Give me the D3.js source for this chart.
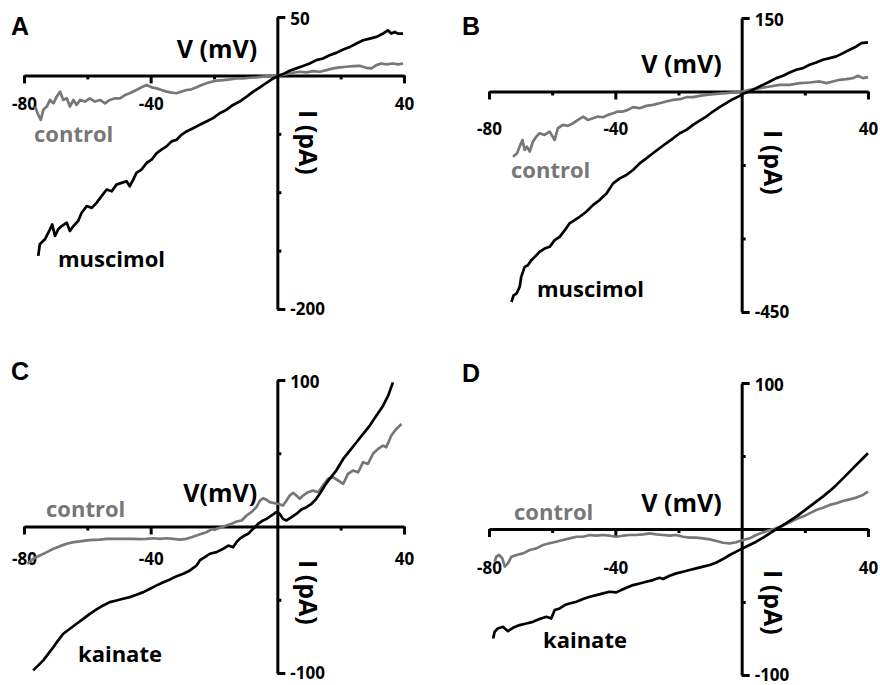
<!DOCTYPE html>
<html>
<head>
<meta charset="utf-8">
<script src="https://cdn.jsdelivr.net/npm/d3@7"></script>
<style>
  body { margin: 0; background: #fff; }
  svg text { font-family: 'Open Sans', sans-serif; font-weight: 700; }
  .axis path, .axis line { stroke: #000; stroke-width: 3; }
  .axis text { font-size: 17px; fill: #000; }
</style>
</head>
<body>
<div id="chart"></div>
<script>
// I-V traces: [V (mV), I (pA)]
const controlA = [[-76.5,-26.7],[-75.5,-33.8],[-74.7,-38.1],[-73.9,-29.5],[-72.8,-26.7],[-71.8,-21.0],[-70.7,-23.9],[-69.7,-18.2],[-68.6,-13.9],[-67.6,-21.0],[-66.5,-19.6],[-65.5,-26.7],[-64.4,-21.0],[-63.4,-25.3],[-62.3,-21.0],[-60.8,-22.4],[-59.2,-19.6],[-57.6,-22.4],[-56.0,-21.0],[-54.4,-23.9],[-52.9,-21.0],[-51.3,-19.6],[-49.7,-19.6],[-48.1,-16.8],[-46.6,-15.3],[-44.5,-12.5],[-42.9,-10.2],[-41.3,-8.2],[-39.7,-10.2],[-38.1,-11.1],[-36.6,-12.5],[-35.0,-13.9],[-33.4,-14.8],[-31.8,-15.3],[-30.3,-13.9],[-28.7,-12.5],[-27.1,-11.9],[-25.5,-10.2],[-23.9,-8.2],[-22.4,-6.8],[-20.8,-5.4],[-19.2,-4.5],[-17.1,-4.0],[-15.0,-3.4],[-12.9,-2.6],[-10.8,-2.6],[-8.7,-2.0],[-6.6,-1.7],[-4.5,-1.1],[-2.4,-0.6],[0.2,-0.3],[2.9,1.1],[5.0,2.3],[7.1,3.1],[9.2,2.6],[11.3,3.7],[13.4,3.1],[15.5,4.5],[17.6,6.0],[19.7,6.8],[21.8,7.4],[23.9,8.0],[26.0,8.2],[28.1,6.5],[29.7,6.0],[31.3,8.8],[32.8,10.2],[34.4,9.4],[36.5,10.2],[38.1,9.4],[39.7,10.2]]
const muscimolA = [[-75.5,-154.5],[-75.0,-144.6],[-73.4,-140.3],[-71.8,-131.8],[-71.1,-127.6],[-70.2,-137.5],[-69.2,-131.8],[-68.1,-129.0],[-66.5,-126.1],[-65.5,-133.2],[-64.4,-129.0],[-62.9,-124.7],[-61.8,-117.6],[-60.2,-111.9],[-58.6,-113.4],[-57.1,-109.1],[-55.5,-103.4],[-53.9,-97.7],[-52.3,-99.2],[-50.8,-93.5],[-49.2,-92.0],[-47.6,-90.6],[-46.6,-94.9],[-45.5,-89.2],[-44.5,-83.5],[-42.9,-80.7],[-41.3,-75.0],[-39.7,-72.2],[-38.1,-66.5],[-36.6,-63.6],[-35.0,-60.8],[-33.4,-56.5],[-31.8,-55.1],[-30.3,-50.9],[-28.7,-48.0],[-26.6,-45.2],[-24.5,-42.3],[-22.4,-39.5],[-20.3,-36.6],[-18.2,-32.4],[-16.1,-29.5],[-14.0,-25.3],[-11.9,-22.4],[-9.7,-18.2],[-7.6,-13.9],[-5.5,-10.2],[-3.4,-6.3],[-1.3,-2.6],[0.2,-0.6],[1.8,1.1],[3.9,4.0],[6.0,6.0],[8.1,8.0],[10.2,10.2],[12.3,13.1],[14.4,14.5],[16.5,17.3],[18.6,19.3],[20.8,22.2],[22.9,24.4],[25.0,27.3],[27.1,30.1],[29.2,31.5],[31.3,33.0],[33.4,35.8],[34.9,38.6],[36.0,35.8],[37.1,37.2],[38.1,35.8],[39.7,35.8]]

const controlB = [[-72.4,-133.0],[-71.1,-126.1],[-70.3,-112.5],[-69.4,-98.9],[-68.7,-119.3],[-68.0,-112.5],[-67.1,-122.7],[-66.1,-102.3],[-65.0,-92.0],[-64.0,-85.2],[-62.4,-88.6],[-60.8,-81.8],[-59.2,-98.9],[-58.2,-75.0],[-56.6,-68.2],[-55.0,-70.2],[-53.4,-64.8],[-51.8,-58.0],[-50.2,-51.1],[-48.7,-58.0],[-47.1,-54.5],[-45.5,-51.1],[-43.9,-52.5],[-42.3,-47.7],[-40.7,-44.3],[-39.2,-40.9],[-37.6,-40.9],[-36.0,-37.5],[-34.4,-32.0],[-32.3,-34.1],[-30.2,-29.3],[-28.1,-27.3],[-26.0,-23.9],[-23.9,-20.5],[-21.7,-17.0],[-19.6,-15.7],[-17.5,-11.6],[-15.4,-11.6],[-13.3,-8.9],[-11.2,-6.8],[-8.0,-4.8],[-4.9,-3.4],[-2.8,-2.0],[0.2,0],[2.5,3.4],[5.7,6.8],[8.9,10.2],[12.0,13.6],[15.2,13.6],[18.4,17.0],[21.5,18.4],[24.7,20.5],[26.8,17.0],[28.9,20.5],[31.0,23.9],[33.1,25.2],[35.3,27.3],[36.8,32.0],[38.4,27.3],[40.0,29.3]]
const muscimolB = [[-72.9,-429.5],[-72.2,-415.9],[-71.3,-412.5],[-70.3,-398.9],[-69.8,-378.4],[-68.7,-358.0],[-67.7,-354.5],[-66.6,-344.3],[-65.5,-337.5],[-64.0,-327.3],[-62.4,-320.5],[-60.8,-317.0],[-59.2,-303.4],[-57.6,-296.6],[-56.0,-282.9],[-54.5,-269.3],[-52.9,-262.5],[-51.3,-255.7],[-49.2,-245.4],[-47.1,-231.8],[-45.0,-221.6],[-42.8,-208.0],[-40.7,-187.5],[-38.6,-177.3],[-36.5,-170.5],[-34.4,-160.2],[-32.3,-146.6],[-30.2,-136.4],[-28.1,-126.1],[-26.0,-115.9],[-23.9,-105.7],[-21.7,-95.5],[-19.6,-85.2],[-17.5,-78.4],[-15.4,-68.2],[-13.3,-59.3],[-11.2,-51.1],[-9.1,-40.9],[-7.0,-32.0],[-4.9,-23.9],[-2.8,-15.7],[-0.6,-8.9],[0.4,-4.8],[2.5,0],[4.6,6.8],[6.8,13.6],[8.9,20.5],[11.0,27.3],[13.1,32.0],[15.2,38.9],[17.3,44.3],[19.4,47.7],[21.5,54.5],[23.6,59.3],[25.7,64.8],[27.9,68.2],[30.0,71.6],[32.1,78.4],[34.2,85.2],[36.3,92.0],[37.9,98.9],[40.0,100.2]]

const controlC = [[-78.9,-25.5],[-77.1,-22.0],[-75.0,-19.8],[-72.8,-17.5],[-70.7,-15.2],[-68.6,-13.4],[-66.5,-11.8],[-64.4,-10.7],[-62.3,-10.2],[-60.2,-9.5],[-58.1,-9.1],[-56.0,-8.9],[-53.9,-8.4],[-51.8,-8.4],[-49.7,-8.4],[-47.6,-8.4],[-45.5,-8.4],[-43.4,-8.6],[-41.3,-8.4],[-39.2,-8.0],[-37.1,-8.4],[-35.0,-8.0],[-32.9,-8.4],[-30.8,-8.9],[-28.7,-8.4],[-27.1,-7.3],[-25.5,-6.1],[-23.9,-5.0],[-22.4,-3.9],[-20.8,-2.0],[-19.2,-1.6],[-17.6,-0.5],[-16.1,0.7],[-14.5,1.8],[-12.9,3.4],[-11.3,4.1],[-9.7,7.5],[-8.2,9.8],[-6.6,13.2],[-5.5,17.7],[-4.5,19.3],[-3.4,18.2],[-2.4,16.6],[-1.3,16.1],[0.2,15.5],[1.8,14.3],[2.9,17.7],[3.9,21.1],[5.0,23.0],[6.0,21.1],[7.1,18.9],[8.1,21.1],[9.7,23.4],[11.3,24.5],[12.9,23.4],[14.4,28.0],[16.0,32.5],[17.6,33.6],[19.2,31.4],[20.8,29.1],[22.3,35.9],[23.9,38.2],[25.5,37.0],[27.1,43.9],[28.6,42.7],[30.2,49.6],[31.8,53.0],[33.4,55.2],[34.4,54.1],[36.0,62.1],[37.6,66.6],[39.2,70.0]]
const kainateC = [[-77.1,-98.2],[-75.5,-94.8],[-73.9,-91.4],[-72.3,-86.8],[-70.7,-82.3],[-69.2,-77.7],[-67.6,-73.2],[-65.5,-69.8],[-63.4,-66.4],[-61.3,-63.0],[-59.2,-59.6],[-57.1,-56.6],[-55.0,-53.9],[-52.9,-51.6],[-50.8,-50.5],[-48.7,-49.3],[-46.6,-48.2],[-44.5,-46.6],[-42.3,-44.8],[-40.2,-42.5],[-38.1,-40.2],[-36.0,-38.0],[-33.9,-36.1],[-31.8,-33.9],[-29.7,-32.3],[-27.6,-30.0],[-25.5,-26.6],[-24.5,-23.2],[-22.9,-20.9],[-21.3,-18.6],[-19.2,-17.5],[-17.1,-15.2],[-15.5,-13.0],[-14.0,-14.1],[-12.9,-10.7],[-11.9,-8.4],[-10.3,-6.1],[-9.2,-5.0],[-8.2,-2.7],[-7.1,-0.5],[-6.1,1.8],[-4.5,4.1],[-3.4,5.2],[-1.9,7.5],[-0.3,9.8],[0.8,8.6],[1.8,5.2],[2.9,4.1],[4.5,6.4],[6.0,8.6],[7.6,11.6],[9.2,13.2],[10.8,15.5],[12.3,18.9],[13.4,22.3],[15.0,28.0],[16.5,32.5],[18.6,38.2],[20.8,46.1],[22.9,51.8],[25.0,57.5],[27.1,63.2],[29.2,68.9],[31.3,75.7],[33.4,82.5],[35.0,89.3],[36.5,98.4]]

const controlD = [[-78.2,-22.4],[-77.7,-19.0],[-76.8,-17.8],[-75.8,-20.1],[-75.0,-25.8],[-74.0,-23.5],[-72.9,-19.0],[-71.3,-17.8],[-69.2,-16.7],[-67.1,-14.4],[-65.0,-13.3],[-62.9,-11.0],[-60.8,-9.8],[-58.7,-8.7],[-56.6,-7.5],[-54.5,-6.4],[-52.3,-5.3],[-50.2,-5.3],[-48.1,-4.1],[-46.0,-4.6],[-43.9,-4.1],[-41.8,-4.6],[-39.7,-5.3],[-37.6,-4.6],[-35.5,-4.1],[-33.4,-4.1],[-31.2,-3.7],[-29.1,-3.0],[-27.0,-3.7],[-24.9,-4.1],[-22.8,-4.6],[-20.7,-4.1],[-18.6,-5.3],[-16.5,-5.9],[-14.4,-5.9],[-12.2,-6.4],[-10.1,-7.1],[-8.0,-8.2],[-5.9,-9.4],[-3.8,-9.8],[-1.7,-9.1],[0.4,-7.5],[2.5,-6.4],[4.6,-4.1],[6.8,-2.3],[8.9,-0.7],[11.0,0.5],[13.1,2.3],[15.2,4.6],[17.3,6.9],[19.4,8.5],[21.5,10.7],[23.6,13.0],[25.7,14.6],[27.9,16.5],[30.0,17.6],[32.1,19.2],[34.2,20.3],[36.3,21.5],[38.4,23.3],[40.0,25.6]]
const kainateD = [[-78.7,-75.0],[-78.2,-70.4],[-77.2,-68.1],[-75.6,-67.0],[-74.0,-70.0],[-72.4,-67.7],[-70.3,-65.8],[-68.2,-64.7],[-66.1,-63.6],[-64.0,-61.7],[-61.8,-60.1],[-60.3,-61.3],[-59.2,-55.5],[-57.6,-54.4],[-56.0,-52.1],[-54.5,-51.0],[-52.3,-49.8],[-50.2,-48.0],[-48.1,-46.4],[-46.0,-45.3],[-43.9,-44.1],[-41.8,-43.0],[-39.7,-43.4],[-38.1,-41.8],[-36.5,-40.2],[-34.4,-38.4],[-32.3,-37.3],[-30.2,-36.1],[-28.1,-35.0],[-26.0,-33.4],[-24.9,-34.3],[-22.8,-32.0],[-20.7,-30.4],[-18.6,-29.3],[-16.5,-28.1],[-14.4,-27.0],[-12.2,-25.8],[-10.1,-24.7],[-8.0,-22.9],[-5.9,-20.6],[-3.8,-17.8],[-1.7,-15.5],[0.2,-13.3],[2.5,-11.0],[4.6,-8.7],[6.8,-5.9],[8.9,-3.0],[11.0,0],[13.1,2.7],[15.2,5.5],[17.3,8.5],[19.4,11.9],[21.5,15.3],[23.6,18.7],[25.7,22.2],[27.9,26.1],[30.0,30.2],[32.1,34.7],[34.2,39.3],[36.3,43.9],[38.4,48.5],[40.0,51.9]]

// axis ranges and tick values
const vDomain = [-80, 40]
const vTicks = [-80, -60, -40, -20, 0, 20, 40]
const vLabels = [-80, -40, 40]
const iDomainA = [-200, 50], iTicksA = [-200, -150, -100, -50, 0, 50]
const iDomainB = [-450, 150], iTicksB = [-450, -300, -150, 0, 150]
const iDomainCD = [-100, 100], iTicksCD = [-100, -50, 0, 50, 100]

const grey = '#777'
const fmt = d => String(d) // plain hyphen, like the figure

const svg = d3.select('#chart').append('svg')
  .attr('width', 880)
  .attr('height', 685)

function drawPanel (p) {
  const x = d3.scaleLinear().domain(vDomain).range(p.xr)
  const y = d3.scaleLinear().domain(p.iDomain).range(p.yr)
  const g = svg.append('g')
  const x0 = x(0), y0 = y(0)

  // x axis: long ticks where labelled, short ones in between
  g.append('g').attr('class', 'axis')
    .attr('transform', `translate(0, ${y0})`)
    .call(d3.axisBottom(x).tickValues(vTicks.filter(v => !vLabels.includes(v) && v !== 0))
      .tickSize(4).tickSizeOuter(0).tickFormat(''))
  g.append('g').attr('class', 'axis')
    .attr('transform', `translate(0, ${y0})`)
    .call(d3.axisBottom(x).tickValues(vLabels).tickSize(8).tickSizeOuter(0)
      .tickPadding(p.xPad).tickFormat(fmt))
    .select('.domain').remove()

  // y axis on V = 0, ticks to the right, only the ends labelled
  const iEnds = [p.iDomain[0], p.iDomain[1]]
  g.append('g').attr('class', 'axis')
    .attr('transform', `translate(${x0}, 0)`)
    .call(d3.axisRight(y).tickValues(p.iTicks.filter(v => !iEnds.includes(v) && v !== 0))
      .tickSize(4).tickSizeOuter(0).tickFormat(''))
  g.append('g').attr('class', 'axis')
    .attr('transform', `translate(${x0}, 0)`)
    .call(d3.axisRight(y).tickValues(iEnds).tickSize(8).tickSizeOuter(0)
      .tickPadding(5).tickFormat(fmt))
    .call(a => a.select('.domain').remove())
    .selectAll('text').attr('dy', d => d < 0 ? '0.3em' : '0.42em')

  const line = d3.line().x(d => x(d[0])).y(d => y(d[1]))
  g.append('path').datum(p.control)
    .attr('d', line).attr('fill', 'none')
    .attr('stroke', grey).attr('stroke-width', 2.7).attr('stroke-linejoin', 'round')
  g.append('path').datum(p.drug)
    .attr('d', line).attr('fill', 'none')
    .attr('stroke', '#000').attr('stroke-width', 2.7).attr('stroke-linejoin', 'round')

  // labels
  g.append('text').text(p.letter)
    .attr('x', p.letterPos[0]).attr('y', p.letterPos[1])
    .style('font-family', "'Liberation Sans', Arial, sans-serif")
    .style('font-size', '25px')
  g.append('text').text(p.vLabel)
    .attr('x', x0 - 20).attr('y', p.vLabelY)
    .attr('text-anchor', 'end')
    .style('font-size', '25px')
  g.append('text').text('I (pA)')
    .attr('transform', `translate(${x0 + 22}, ${p.iLabelY}) rotate(90)`)
    .style('font-size', '25px')
  g.append('text').text('control')
    .attr('x', p.controlPos[0]).attr('y', p.controlPos[1])
    .attr('fill', grey).style('font-size', '22px')
  g.append('text').text(p.drugName)
    .attr('x', p.drugPos[0]).attr('y', p.drugPos[1])
    .style('font-size', '22px')
}

const panels = [
  { letter: 'A', letterPos: [11, 35], xr: [24, 404], yr: [309, 17], iDomain: iDomainA, iTicks: iTicksA,
    xPad: 15, vLabel: 'V (mV)', vLabelY: 58, iLabelY: 110,
    control: controlA, drug: muscimolA, drugName: 'muscimol', controlPos: [34, 142], drugPos: [58, 267] },
  { letter: 'B', letterPos: [462, 35], xr: [489, 868], yr: [312, 18], iDomain: iDomainB, iTicks: iTicksB,
    xPad: 23, vLabel: 'V (mV)', vLabelY: 73, iLabelY: 130,
    control: controlB, drug: muscimolB, drugName: 'muscimol', controlPos: [511, 178], drugPos: [537, 297] },
  { letter: 'C', letterPos: [11, 380], xr: [24, 404], yr: [673, 380], iDomain: iDomainCD, iTicks: iTicksCD,
    xPad: 18, vLabel: 'V(mV)', vLabelY: 502, iLabelY: 560,
    control: controlC, drug: kainateC, drugName: 'kainate', controlPos: [46, 517], drugPos: [78, 662] },
  { letter: 'D', letterPos: [462, 382], xr: [489, 868], yr: [675, 383], iDomain: iDomainCD, iTicks: iTicksCD,
    xPad: 25, vLabel: 'V (mV)', vLabelY: 512, iLabelY: 570,
    control: controlD, drug: kainateD, drugName: 'kainate', controlPos: [514, 520], drugPos: [543, 648] }
]

panels.forEach(drawPanel)
</script>
</body>
</html>
